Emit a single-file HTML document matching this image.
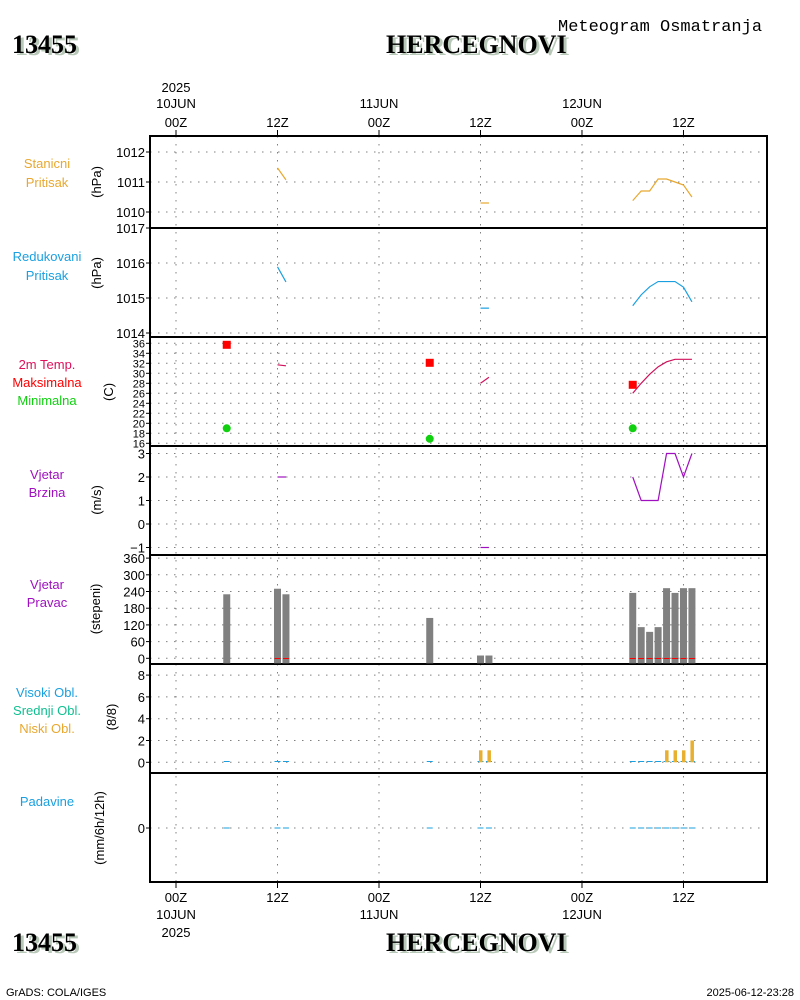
<!DOCTYPE html>
<html><head><meta charset="utf-8"><style>
html,body{margin:0;padding:0;background:#fff;}
svg{display:block;font-family:"Liberation Sans",sans-serif;}
.t{font-size:13px;fill:#000;}
.ttl{font-family:"Liberation Serif",serif;font-weight:bold;font-size:26px;}
</style></head><body>
<svg id="chart" width="800" height="1000" viewBox="0 0 800 1000">
<g id="hdr">
<text x="15" y="55" class="ttl" fill="#b8c8b8">13455</text>
<text x="12" y="53" class="ttl" fill="#000">13455</text>
<text x="389" y="55" class="ttl" fill="#b8c8b8">HERCEGNOVI</text>
<text x="386" y="53" class="ttl" fill="#000">HERCEGNOVI</text>
<text x="558" y="31" font-size="17" fill="#000" font-family="Liberation Mono, monospace">Meteogram Osmatranja</text>
<text x="15" y="953" class="ttl" fill="#b8c8b8">13455</text>
<text x="12" y="951" class="ttl" fill="#000">13455</text>
<text x="389" y="953" class="ttl" fill="#b8c8b8">HERCEGNOVI</text>
<text x="386" y="951" class="ttl" fill="#000">HERCEGNOVI</text>
<text x="6" y="996" font-size="11">GrADS: COLA/IGES</text>
<text x="794" y="996" font-size="11" text-anchor="end">2025-06-12-23:28</text>
</g>
</svg>
<script>
const tickHours=[0,12,24,36,48,60];
const tickTop=["00Z","12Z","00Z","12Z","00Z","12Z"];
const tickDay=["10JUN","","11JUN","","12JUN",""];
const obsHours=[6,12,13,30,36,37,54,55,56,57,58,59,60,61];
const presH=[12,13,36,37,54,55,56,57,58,59,60,61];
const stanVals=[1011.47,1011.07,1010.3,1010.3,1010.38,1010.7,1010.7,1011.1,1011.1,1011.0,1010.9,1010.5];
const redVals=[1015.89,1015.46,1014.71,1014.71,1014.78,1015.09,1015.32,1015.47,1015.47,1015.47,1015.31,1014.89];
const tempVals=[31.7,31.5,28,29.2,26,28,29.8,31.3,32.3,32.8,32.8,32.8];
const windVals=[2,2,-1,-1,2,1,1,1,3,3,2,3];
const maxH=[6,30,54], maxVals=[35.7,32.1,27.7];
const minH=[6,30,54], minVals=[19,16.9,19];
const dirVals=[230,250,230,145,10,10,235,112,95,112,252,235,252,252];
const gustH=[12,13,54,55,56,57,58,59,60,61];
const lowH=[36,37,58,59,60,61], lowVals=[1.1,1.1,1.1,1.1,1.1,2];

const NS="http://www.w3.org/2000/svg";
const svg=document.getElementById('chart');
const L=150,R=767;
const X=h=>176+h*8.458;
function el(t,a,p){const e=document.createElementNS(NS,t);for(const k in a)e.setAttribute(k,a[k]);(p||svg).appendChild(e);return e;}
function txt(x,y,s,a){const e=el('text',Object.assign({x:x,y:y,'font-size':13},a||{}));e.textContent=s;return e;}

const panels=[
 {top:136,bot:228,ticks:[1010,1011,1012],y:v=>152+(1012-v)*30,labels:[["Stanicni","#e8a830"],["Pritisak","#e8a830"]],ly:[168,187],unit:"(hPa)",uy:182},
 {top:228,bot:337,ticks:[1014,1015,1016,1017],y:v=>228+(1017-v)*35,labels:[["Redukovani","#1aa0e0"],["Pritisak","#1aa0e0"]],ly:[261,280],unit:"(hPa)",uy:273},
 {top:337,bot:446,ticks:[16,18,20,22,24,26,28,30,32,34,36],y:v=>343.3+(36-v)*5,labels:[["2m Temp.","#e0105a"],["Maksimalna","#ff0000"],["Minimalna","#10d010"]],ly:[369,387,405],unit:"(C)",uy:392,fs:11},
 {top:446,bot:555,ticks:[-1,0,1,2,3],y:v=>524-v*23.5,labels:[["Vjetar","#a010c0"],["Brzina","#a010c0"]],ly:[479,497],unit:"(m/s)",uy:500},
 {top:555,bot:664,ticks:[0,60,120,180,240,300,360],y:v=>658.3-v*0.2783,labels:[["Vjetar","#a010c0"],["Pravac","#a010c0"]],ly:[589,607],unit:"(stepeni)",uy:609},
 {top:664,bot:773,ticks:[0,2,4,6,8],y:v=>762.3-v*10.9,labels:[["Visoki Obl.","#1aa0e0"],["Srednji Obl.","#10c090"],["Niski Obl.","#e8a830"]],ly:[697,715,733],unit:"(8/8)",uy:717},
 {top:773,bot:882,ticks:[0],y:v=>828-v*20,labels:[["Padavine","#1aa0e0"]],ly:[806],unit:"(mm/6h/12h)",uy:828},
];
// grids
panels.forEach((p,i)=>{
 const g=el('g',{});
 
 
 p.ticks.forEach(v=>{
  const y=p.y(v);
  const gl=el('line',{x1:L,x2:R,y1:y,y2:y,stroke:'#808080','stroke-dasharray':'1.5 6.5'},g);
  
  
  el('line',{x1:L-4,x2:L,y1:y,y2:y,stroke:'#000'},g);
  const t=txt(L-5,y+(p.fs?4:5),String(v).replace('-','−'),{'text-anchor':'end','font-size':p.fs||13},g);
  
  
 });
 p.labels.forEach((l,j)=>{
  const t=txt(47,p.ly[j],l[0],{'text-anchor':'middle',fill:l[1]},g);
  
  
 });
 const u=txt(0,0,p.unit,{'text-anchor':'middle',transform:'translate('+(i==2?113:(i==6?104:i==4?100:i==5?116:101))+','+p.uy+') rotate(-90)'},g);
 
 
});
// vertical grid & time ticks
tickHours.forEach((h,i)=>{
 const x=X(h);
 const vl=el('line',{x1:x,x2:x,y1:136,y2:882,stroke:'#808080','stroke-dasharray':'1.5 6.5'});
 
 
 el('line',{x1:x,x2:x,y1:130,y2:136,stroke:'#000'});
 el('line',{x1:x,x2:x,y1:882,y2:888,stroke:'#000'});
 const a=txt(x,127,tickTop[i],{'text-anchor':'middle'});
 
 
 const b=txt(x,902,tickTop[i],{'text-anchor':'middle'});
 
 
 if(tickDay[i]){
  const c=txt(x,108,tickDay[i],{'text-anchor':'middle'});
  
  
  const d=txt(x,919,tickDay[i],{'text-anchor':'middle'});
  
  
 }
});
const y1=txt(X(0),92,"2025",{'text-anchor':'middle'});


const y2=txt(X(0),937,"2025",{'text-anchor':'middle'});


// borders
const fr=el('rect',{x:L,y:136,width:R-L,height:746,fill:'none',stroke:'#000','stroke-width':2});


panels.slice(1).forEach(p=>{el('line',{x1:L,x2:R,y1:p.top,y2:p.top,stroke:'#000','stroke-width':2});});

function series(hours,vals,p,color,name){
 let seg=[];
 const flush=()=>{ if(seg.length>1){const pl=el('polyline',{points:seg.join(' '),fill:'none',stroke:color,'stroke-width':1.2});
   
   }
  seg=[];};
 hours.forEach((h,i)=>{ if(i>0&&h-hours[i-1]>1)flush(); seg.push(X(h)+','+p.y(vals[i])); });
 flush();
}
series(presH,stanVals,panels[0],'#e8a830','station-pressure-line');
series(presH,redVals,panels[1],'#1aa0e0','reduced-pressure-line');
series(presH,tempVals,panels[2],'#d0105a','temperature-line');
series(presH,windVals,panels[3],'#a010c0','wind-speed-line');
maxH.forEach((h,i)=>{const r=el('rect',{x:X(h)-4,y:panels[2].y(maxVals[i])-4,width:8,height:8,fill:'#f00'});
 
 });
minH.forEach((h,i)=>{const c=el('circle',{cx:X(h),cy:panels[2].y(minVals[i]),r:4,fill:'#10d010'});
 
 });
// direction bars
obsHours.forEach((h,i)=>{
 const p=panels[4],y0=p.y(0)+5,yt=p.y(dirVals[i]);
 const b=el('rect',{x:X(h)-3.5,y:yt,width:7,height:y0-yt,fill:'#808080'});
 
 
});
gustH.forEach(h=>{const l=el('line',{x1:X(h)-3,x2:X(h)+3,y1:658.5,y2:658.5,stroke:'#f00','stroke-width':1});
 
 });
// clouds zero dashes & precip dashes
obsHours.forEach(h=>{
 el('line',{x1:X(h)-3,x2:X(h)+3,y1:761.5,y2:761.5,stroke:'#1aa0e0','stroke-width':1});
 el('line',{x1:X(h)-3,x2:X(h)+3,y1:828,y2:828,stroke:'#1aa0e0','stroke-width':1});
});
lowH.forEach((h,i)=>{
 const p=panels[5],y0=p.y(0),yt=p.y(lowVals[i]);
 const b=el('rect',{x:X(h)-1.5,y:yt,width:3.5,height:y0-yt,fill:'#e8b030'});
 
 
});
</script>
</body></html>
